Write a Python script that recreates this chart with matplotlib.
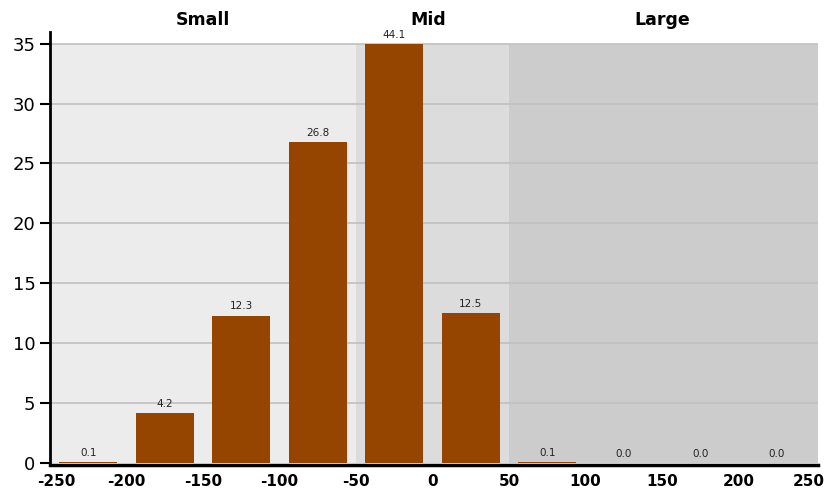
import matplotlib.pyplot as plt
import matplotlib.transforms as mtransforms
import numpy as np

# bin centres and percentages
bin_centers = [-225, -175, -125, -75, -25, 25, 75, 125, 175, 225]
values = [0.1, 4.2, 12.3, 26.8, 44.1, 12.5, 0.1, 0.0, 0.0, 0.0]
xticks = [-250, -200, -150, -100, -50, 0, 50, 100, 150, 200, 250]
yticks = [0, 5, 10, 15, 20, 25, 30, 35]

# shaded groups
group_names = ["Small", "Mid", "Large"]
group_edges = [(-250, -50), (-50, 50), (50, 252)]
group_colors = ["#ececec", "#dcdcdc", "#cccccc"]
group_label_x = [-150, -3, 150]

ycap = 35
ybot, ytop = -0.2, 36

fig = plt.figure(figsize=(8.26, 4.94), dpi=100)
ax = fig.add_axes([50 / 826, 28.6 / 494, 768 / 826, 433.7 / 494])
ax.set_xlim(-250, 252)
ax.set_ylim(ybot, ytop)

for (x0, x1), c in zip(group_edges, group_colors):
    ax.fill_between([x0, x1], 0, ycap, color=c, lw=0, zorder=0)

for y in yticks[1:]:
    ax.axhline(y, color="#c0c0c0", lw=1.2, zorder=1)

heights = np.minimum(values, ycap)
ax.bar(bin_centers, heights, width=38, color="#964500", linewidth=0, zorder=2)

for x, v, h in zip(bin_centers, values, heights):
    ax.annotate(f"{v:.1f}", (x, h), xytext=(0, 3), textcoords="offset points",
                ha="center", va="bottom", fontsize=7.5, color="#222222")

for name, gx in zip(group_names, group_label_x):
    ax.text(gx, 1.016, name, transform=ax.get_xaxis_transform(),
            ha="center", va="baseline", fontsize=12.5, fontweight="bold")

ax.set_xticks(xticks)
ax.set_xticklabels([str(t) for t in xticks], fontweight="bold", fontsize=11)
ax.set_yticks(yticks)
ax.tick_params(axis="y", labelsize=13, length=7, width=1.5, direction="out")
ax.tick_params(axis="x", length=0, pad=6)

# nudge the edge labels inwards like the original
labels = ax.get_xticklabels()
labels[0].set_transform(labels[0].get_transform() +
                        mtransforms.ScaledTranslation(6 / 100, 0, fig.dpi_scale_trans))
labels[-1].set_transform(labels[-1].get_transform() +
                         mtransforms.ScaledTranslation(-6 / 100, 0, fig.dpi_scale_trans))

for s in ["top", "right"]:
    ax.spines[s].set_visible(False)
ax.spines["left"].set_linewidth(2)
ax.spines["bottom"].set_linewidth(2.5)

fig.savefig("out.png", dpi=100)
